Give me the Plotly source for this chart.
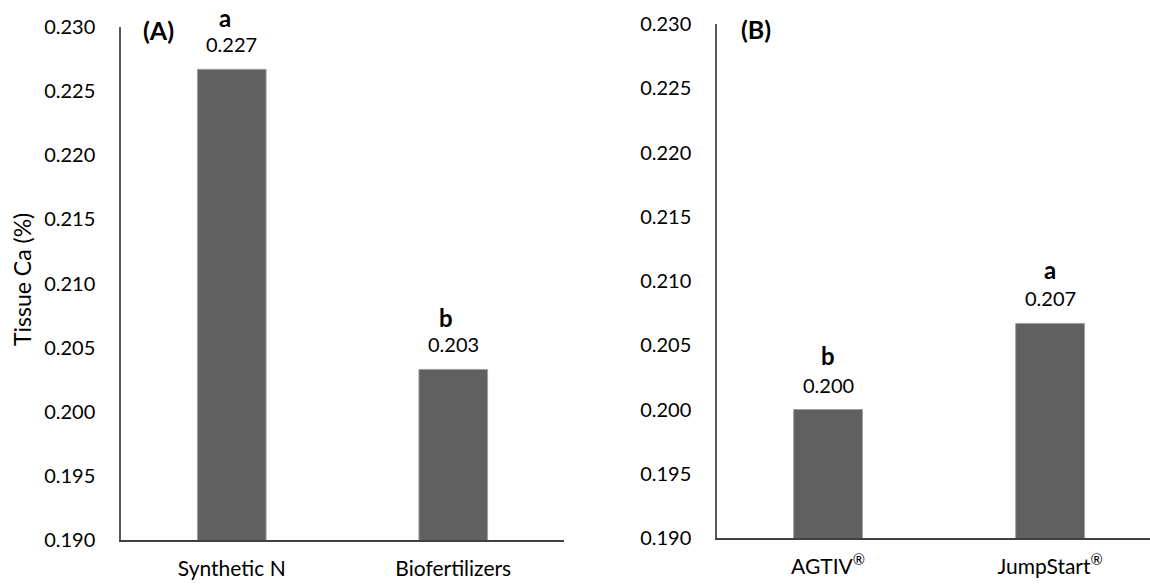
import plotly.graph_objects as go

cats_a = ["Synthetic N", "Biofertilizers"]
vals_a = [0.2267, 0.2033]
letters_a = ["a", "b"]

cats_b = ["AGTIV<sup>®</sup>", "JumpStart<sup>®</sup>"]
vals_b = [0.2000, 0.2067]
letters_b = ["b", "a"]

yticks = [0.190, 0.195, 0.200, 0.205, 0.210, 0.215, 0.220, 0.225, 0.230]
ytitle = "Tissue Ca (%)"

FONT = "Lato"
BAR = "#606060"
EDGE = "#a0a0a0"
W, H = 1150, 585

fig = go.Figure()
fig.add_trace(go.Bar(x=cats_a, y=vals_a, xaxis="x", yaxis="y", width=0.31,
                     marker=dict(color=BAR, line=dict(color=EDGE, width=1))))
fig.add_trace(go.Bar(x=cats_b, y=vals_b, xaxis="x2", yaxis="y2", width=0.31,
                     marker=dict(color=BAR, line=dict(color=EDGE, width=1))))

ann = []
for c, v, l in zip(cats_a, vals_a, letters_a):
    ann.append(dict(x=c, y=v, xref="x", yref="y", text=f"{v:.3f}", showarrow=False,
                    yanchor="middle", yshift=25, font=dict(size=20, color="black", family=FONT)))
    ann.append(dict(x=c, y=v, xref="x", yref="y", text=f"<b>{l}</b>", showarrow=False,
                    yanchor="middle", yshift=52, xshift=-7, font=dict(size=24, color="black", family=FONT)))
for c, v, l in zip(cats_b, vals_b, letters_b):
    ann.append(dict(x=c, y=v, xref="x2", yref="y2", text=f"{v:.3f}", showarrow=False,
                    yanchor="middle", yshift=25, font=dict(size=20, color="black", family=FONT)))
    ann.append(dict(x=c, y=v, xref="x2", yref="y2", text=f"<b>{l}</b>", showarrow=False,
                    yanchor="middle", yshift=54, font=dict(size=24, color="black", family=FONT)))

ann.append(dict(x=158 / W, y=1 - 30 / H, xref="paper", yref="paper", text="<b>(A)</b>",
                xanchor="center", yanchor="middle", showarrow=False,
                font=dict(size=25, color="black", family=FONT)))
ann.append(dict(x=756 / W, y=1 - 29 / H, xref="paper", yref="paper", text="<b>(B)</b>",
                xanchor="center", yanchor="middle", showarrow=False,
                font=dict(size=25, color="black", family=FONT)))
ann.append(dict(x=22 / W, y=1 - 280 / H, xref="paper", yref="paper", text=ytitle,
                xanchor="center", yanchor="middle", textangle=-90, showarrow=False,
                font=dict(size=23, color="black", family=FONT)))

yax = dict(range=[0.19, 0.23], tickvals=yticks, ticktext=[f"{t:.3f}" for t in yticks],
           showgrid=False, zeroline=False, showline=True, linecolor="#595959", linewidth=1.5,
           automargin=False,
           ticks="", ticklabelstandoff=20, tickfont=dict(size=20, color="black", family=FONT))
xax = dict(showgrid=False, zeroline=False, showline=True, linecolor="#404040", linewidth=1.5,
           automargin=False,
           ticks="", ticklabelstandoff=9, tickfont=dict(size=21, color="black", family=FONT))

fig.update_layout(
    width=W, height=H, autosize=False,
    margin=dict(l=0, r=0, t=0, b=0, pad=0, autoexpand=False),
    plot_bgcolor="white", paper_bgcolor="white",
    showlegend=False,
    xaxis=dict(xax, domain=[121 / W, 564 / W], range=[-0.5, 1.5], anchor="y"),
    yaxis=dict(yax, domain=[45 / H, 558 / H], anchor="x"),
    xaxis2=dict(xax, domain=[717 / W, 1.0], range=[-0.5, 1.45], anchor="y2"),
    yaxis2=dict(yax, domain=[47 / H, 561 / H], anchor="x2"),
    annotations=ann,
)

fig.write_html("out.html")
